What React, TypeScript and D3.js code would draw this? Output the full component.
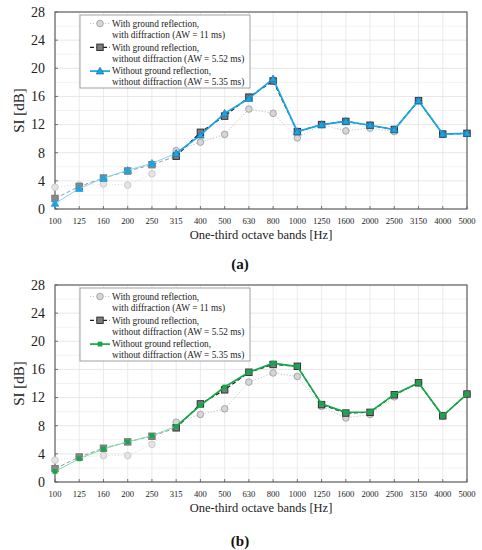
import React from 'react';
import * as d3 from 'd3';

const bands = ['100', '125', '160', '200', '250', '315', '400', '500', '630', '800', '1000', '1250', '1600', '2000', '2500', '3150', '4000', '5000'];
const yTicks = [0, 4, 8, 12, 16, 20, 24, 28];

// Panel (a)
const aWithDiff = [3.1, 3.4, 3.55, 3.4, 5.0, 8.3, 9.5, 10.6, 14.2, 13.6, 10.1, 12.0, 11.1, 11.5, 11.0, 15.4, 10.6, 10.75];
const aNoDiff = [1.5, 3.2, 4.4, 5.4, 6.3, 7.5, 10.9, 13.2, 15.9, 18.2, 11.0, 12.0, 12.45, 11.9, 11.3, 15.4, 10.65, 10.75];
const aNoGround = [0.8, 2.9, 4.4, 5.5, 6.5, 7.9, 10.5, 13.6, 15.7, 18.5, 11.0, 12.0, 12.45, 11.9, 11.3, 15.4, 10.65, 10.75];

// Panel (b)
const bWithDiff = [3.1, 3.6, 3.75, 3.75, 5.35, 8.5, 9.6, 10.4, 14.2, 15.5, 15.0, 10.75, 9.1, 9.6, 12.1, 14.1, 9.4, 12.5];
const bNoDiff = [1.9, 3.55, 4.8, 5.7, 6.5, 7.7, 11.1, 13.1, 15.6, 16.7, 16.45, 11.0, 9.8, 9.9, 12.4, 14.1, 9.4, 12.5];
const bNoGround = [1.5, 3.3, 4.7, 5.7, 6.6, 7.9, 10.9, 13.5, 15.6, 16.9, 16.4, 11.1, 9.9, 9.95, 12.45, 14.1, 9.4, 12.5];

const legendLabels = [
  ['With ground reflection,', 'with diffraction (AW = 11 ms)'],
  ['With ground reflection,', 'without diffraction (AW = 5.52 ms)'],
  ['Without ground reflection,', 'without diffraction (AW = 5.35 ms)'],
];

const FADE_END = 5; // index of 315 Hz: lower bands are drawn faded
const FONT = "'Liberation Serif', 'Times New Roman', serif";

function Marker({ kind, cx, cy, fill, stroke }: { kind: string; cx: number; cy: number; fill: string; stroke: string }) {
  if (kind === 'circle') return <circle cx={cx} cy={cy} r={3.3} fill={fill} stroke={stroke} strokeWidth={0.9} />;
  if (kind === 'square') return <rect x={cx - 3.2} y={cy - 3.2} width={6.4} height={6.4} fill={fill} stroke={stroke} strokeWidth={1} />;
  if (kind === 'triangle') {
    const s = 3.8;
    return <path d={`M${cx},${cy - s} L${cx + s},${cy + s * 0.75} L${cx - s},${cy + s * 0.75} Z`} fill={fill} stroke={stroke} strokeWidth={0.8} />;
  }
  if (kind === 'greensq') return <rect x={cx - 2.4} y={cy - 2.4} width={4.8} height={4.8} fill={fill} stroke="none" />;
  return null;
}

function Panel({ top, bottom, captionY, caption, s1, s2, s3, color, colorFade, kind3 }: any) {
  const left = 55, right = 467;
  const x = d3.scalePoint<string>().domain(bands).range([left, right]);
  const y = d3.scaleLinear().domain([0, 28]).range([bottom, top]);
  const seg = (vals: number[], lo: number, hi: number) => {
    const pts = vals.map((v, i) => [x(bands[i]) as number, y(v)] as [number, number]).slice(lo, hi + 1);
    return d3.line()(pts) as string;
  };
  const n = bands.length - 1;
  const grid = d3.range(2, 28, 2);

  const series = [
    { vals: s1, st: { line: '#bdbdbd', lineFade: '#dedede', width: 0.9, widthFade: 0.9, dash: '1.2,1.8' }, kind: 'circle', fill: '#d6d6d6', stroke: '#a0a0a0', fillF: '#e4e4e4', strokeF: '#c6c6c6' },
    { vals: s2, st: { line: '#1a1a1a', lineFade: '#9a9a9a', width: 1.2, widthFade: 1.0, dash: '4,2.5' }, kind: 'square', fill: '#7d7d7d', stroke: '#333', fillF: '#8a8a8a', strokeF: '#777' },
    { vals: s3, st: { line: color, lineFade: colorFade, width: 1.7, widthFade: 1.0 }, kind: kind3, fill: color, stroke: kind3 === 'triangle' ? '#1677b5' : color, fillF: color, strokeF: color },
  ];

  return (
    <g>
      {grid.map((g) => (
        <line key={'h' + g} x1={left} x2={right} y1={y(g)} y2={y(g)} stroke={g % 4 === 0 ? '#dcdcdc' : '#ececec'} strokeWidth={0.7} />
      ))}
      {bands.slice(1, -1).map((b) => (
        <line key={'v' + b} x1={x(b)} x2={x(b)} y1={top} y2={bottom} stroke="#e2e2e2" strokeWidth={0.7} />
      ))}
      {bands.map((b) => (
        <line key={'t' + b} x1={x(b)} x2={x(b)} y1={bottom} y2={bottom - 3} stroke="#555" strokeWidth={0.8} />
      ))}
      {yTicks.map((t) => (
        <line key={'yt' + t} x1={left} x2={left + 3} y1={y(t)} y2={y(t)} stroke="#555" strokeWidth={0.8} />
      ))}
      <rect x={left} y={top} width={right - left} height={bottom - top} fill="none" stroke="#5a5a5a" strokeWidth={1.2} />

      {series.map((s, si) => (
        <g key={'s' + si}>
          <path d={seg(s.vals, 0, FADE_END)} fill="none" stroke={s.st.lineFade} strokeWidth={s.st.widthFade} strokeDasharray={s.st.dash} />
          <path d={seg(s.vals, FADE_END, n)} fill="none" stroke={s.st.line} strokeWidth={s.st.width} strokeDasharray={s.st.dash} />
          {s.vals.map((v: number, i: number) => (
            <Marker key={i} kind={s.kind} cx={x(bands[i]) as number} cy={y(v)} fill={i < FADE_END ? s.fillF : s.fill} stroke={i < FADE_END ? s.strokeF : s.stroke} />
          ))}
        </g>
      ))}

      {yTicks.map((t) => (
        <text key={'yl' + t} x={45} y={y(t)} dy="0.35em" textAnchor="end" fontSize={14} fontFamily={FONT} fill="#222">{t}</text>
      ))}
      {bands.map((b) => (
        <text key={'xl' + b} x={x(b)} y={bottom + 12} dy="0.35em" textAnchor="middle" fontSize={8.6} fontFamily={FONT} fill="#222">{b}</text>
      ))}
      <text x={(left + right) / 2} y={bottom + 26} dy="0.35em" textAnchor="middle" fontSize={12.5} fontFamily={FONT} fill="#222">One-third octave bands [Hz]</text>
      <text transform={`translate(19,${(top + bottom) / 2}) rotate(-90)`} dy="0.35em" textAnchor="middle" fontSize={15} fontFamily={FONT} fill="#222">SI [dB]</text>
      <text x={240} y={captionY} dy="0.35em" textAnchor="middle" fontSize={15} fontWeight="bold" fontFamily={FONT} fill="#111">{caption}</text>

      <g>
        <rect x={80} y={top + 3} width={170} height={73} fill="white" stroke="#8a8a8a" strokeWidth={0.8} />
        {series.map((s, si) => {
          const ry = top + 11.5 + si * 23.8;
          return (
            <g key={'lg' + si}>
              <line x1={90} x2={110} y1={ry} y2={ry} stroke={s.st.line} strokeWidth={s.st.width} strokeDasharray={s.st.dash} />
              <Marker kind={s.kind} cx={100} cy={ry} fill={s.fill} stroke={s.stroke} />
              <text x={112} y={ry} dy="0.35em" fontSize={9.3} fontFamily={FONT} fill="#222">{legendLabels[si][0]}</text>
              <text x={112} y={ry + 11} dy="0.35em" fontSize={9.3} fontFamily={FONT} fill="#222">{legendLabels[si][1]}</text>
            </g>
          );
        })}
      </g>
    </g>
  );
}

export default function App() {
  return (
    <svg width={482} height={550} style={{ position: 'absolute', left: 0, top: 0, background: 'white' }}>
      <rect width={482} height={550} fill="white" />
      <Panel top={12} bottom={209} captionY={264} caption="(a)" s1={aWithDiff} s2={aNoDiff} s3={aNoGround} color="#1aa5e6" colorFade="#7fd8f2" kind3="triangle" />
      <Panel top={285} bottom={482} captionY={541} caption="(b)" s1={bWithDiff} s2={bNoDiff} s3={bNoGround} color="#14a84b" colorFade="#7fdcae" kind3="greensq" />
    </svg>
  );
}
